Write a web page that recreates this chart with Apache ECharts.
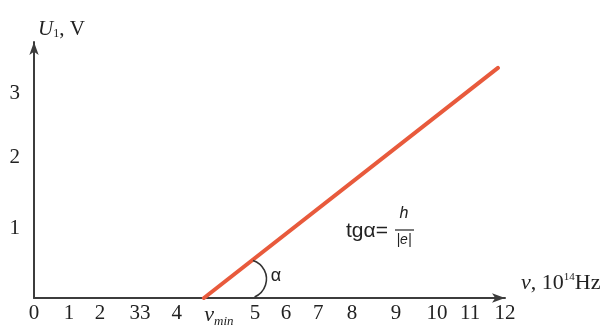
<!DOCTYPE html>
<html>
<head>
<meta charset="utf-8">
<script src="https://cdn.jsdelivr.net/npm/echarts@6/dist/echarts.min.js"></script>
<style>
  html, body { margin: 0; padding: 0; background: #fff; }
  #chart { width: 613px; height: 329px; }
</style>
</head>
<body>
<div id="chart"></div>
<script>
// tick labels as printed under the axis (positions)
const xTickValues = [0, 0.89, 1.68, 2.70, 3.64, 4.33, 5.63, 6.42, 7.24, 8.10, 9.22, 10.27, 11.11, 12];
const xTickLabels = ['0', '1', '2', '33', '4', 'numin', '5', '6', '7', '8', '9', '10', '11', '12'];
const yTickValues = [1.02, 2.06, 3];
const yTickLabels = ['1', '2', '3'];

// stopping voltage vs frequency: zero up to nu_min, then straight line
const lineX = [4.33, 11.82];
const lineY = [0, 3.37];
const nuMin = 4.33;

const SERIF = 'Liberation Serif';
const SANS = 'Liberation Sans';
const AXIS = '#3c3c3c';
const RED = '#E85A3C';

const chart = echarts.init(document.getElementById('chart'), null, { renderer: 'canvas' });

function xLabel(v) {
  const i = xTickValues.findIndex((t) => Math.abs(t - v) < 1e-6);
  if (i < 0) return '';
  if (xTickLabels[i] === 'numin') return '{sp|}{nu|ν}{sub|min}';
  return xTickLabels[i];
}
function yLabel(v) {
  const i = yTickValues.findIndex((t) => Math.abs(t - v) < 1e-6);
  return i < 0 ? '' : yTickLabels[i];
}

chart.setOption({
  backgroundColor: '#fff',
  animation: false,
  grid: { left: 34, right: 108, top: 42, bottom: 31 },
  xAxis: {
    type: 'value', min: 0, max: 12,
    name: '{nu|ν}{t|, 10}{sup|14}{t|Hz}',
    nameLocation: 'end', nameGap: 16,
    nameTextStyle: {
      align: 'left', verticalAlign: 'bottom', padding: [0, 0, 4, 0],
      rich: {
        nu: { fontFamily: SERIF, fontStyle: 'italic', fontSize: 22, color: '#222' },
        t: { fontFamily: SERIF, fontSize: 22, color: '#222' },
        sup: { fontFamily: SERIF, fontSize: 11, color: '#222', verticalAlign: 'top', padding: [0, 0, 8, 0] },
      },
    },
    axisLine: { show: true, onZero: false, symbol: ['none', 'arrow'], symbolSize: [7, 13], lineStyle: { color: AXIS, width: 2 } },
    axisTick: { show: false },
    splitLine: { show: false },
    axisLabel: {
      customValues: xTickValues,
      formatter: xLabel,
      margin: 5,
      fontFamily: SERIF, fontSize: 21, color: '#222',
      rich: {
        sp: { width: 30 },
        nu: { fontFamily: SERIF, fontStyle: 'italic', fontSize: 22, color: '#222' },
        sub: { fontFamily: SERIF, fontStyle: 'italic', fontSize: 13, color: '#222', padding: [12, 0, 0, 0] },
      },
    },
  },
  yAxis: {
    type: 'value', min: 0, max: 3.75,
    name: '{u|U}{sub|1}{t|, V}',
    nameLocation: 'end', nameGap: 2,
    nameTextStyle: {
      align: 'left', verticalAlign: 'bottom', padding: [0, 0, 0, 4],
      rich: {
        u: { fontFamily: SERIF, fontStyle: 'italic', fontSize: 21, color: '#222' },
        sub: { fontFamily: SERIF, fontSize: 12, color: '#222', padding: [10, 0, 0, 0] },
        t: { fontFamily: SERIF, fontSize: 21, color: '#222' },
      },
    },
    axisLine: { show: true, onZero: false, symbol: ['none', 'arrow'], symbolSize: [7, 13], lineStyle: { color: AXIS, width: 2 } },
    axisTick: { show: false },
    splitLine: { show: false },
    axisLabel: {
      customValues: yTickValues,
      formatter: yLabel,
      margin: 14,
      fontFamily: SERIF, fontSize: 21, color: '#222',
    },
  },
  series: [
    {
      type: 'line',
      data: lineX.map((x, i) => [x, lineY[i]]),
      symbol: 'none',
      lineStyle: { color: RED, width: 4, cap: 'round' },
      z: 3,
    },
    {
      // angle arc + alpha next to the foot of the line
      type: 'custom',
      data: [[nuMin, 0]],
      renderItem: (params, api) => {
        const p = api.coord([api.value(0), api.value(1)]);
        return {
          type: 'group',
          children: [
            {
              type: 'arc',
              shape: { cx: p[0] + 43, cy: p[1] - 19, r: 19.5, startAngle: -72 * Math.PI / 180, endAngle: 67 * Math.PI / 180, clockwise: true },
              style: { stroke: '#333', lineWidth: 1.6, fill: null },
            },
            {
              type: 'text',
              x: p[0] + 72, y: p[1] - 22,
              style: { text: 'α', fontFamily: SANS, fontSize: 18, fill: '#222', align: 'center', verticalAlign: 'middle' },
            },
          ],
        };
      },
      z: 4,
    },
  ],
  graphic: [
    {
      type: 'group', left: 346, top: 206,
      children: [
        { type: 'text', x: 0, y: 15, style: { text: 'tgα=', fontFamily: SANS, fontSize: 21, fill: '#222' } },
        { type: 'text', x: 58, y: 0, style: { text: 'h', fontFamily: SANS, fontStyle: 'italic', fontSize: 16, fill: '#222', align: 'center' } },
        { type: 'line', shape: { x1: 49, y1: 24, x2: 68, y2: 24 }, style: { stroke: '#222', lineWidth: 1.2 } },
        { type: 'text', x: 58, y: 27, style: { text: '|e|', fontFamily: SANS, fontStyle: 'italic', fontSize: 14, fill: '#222', align: 'center' } },
      ],
    },
  ],
});
</script>
</body>
</html>
